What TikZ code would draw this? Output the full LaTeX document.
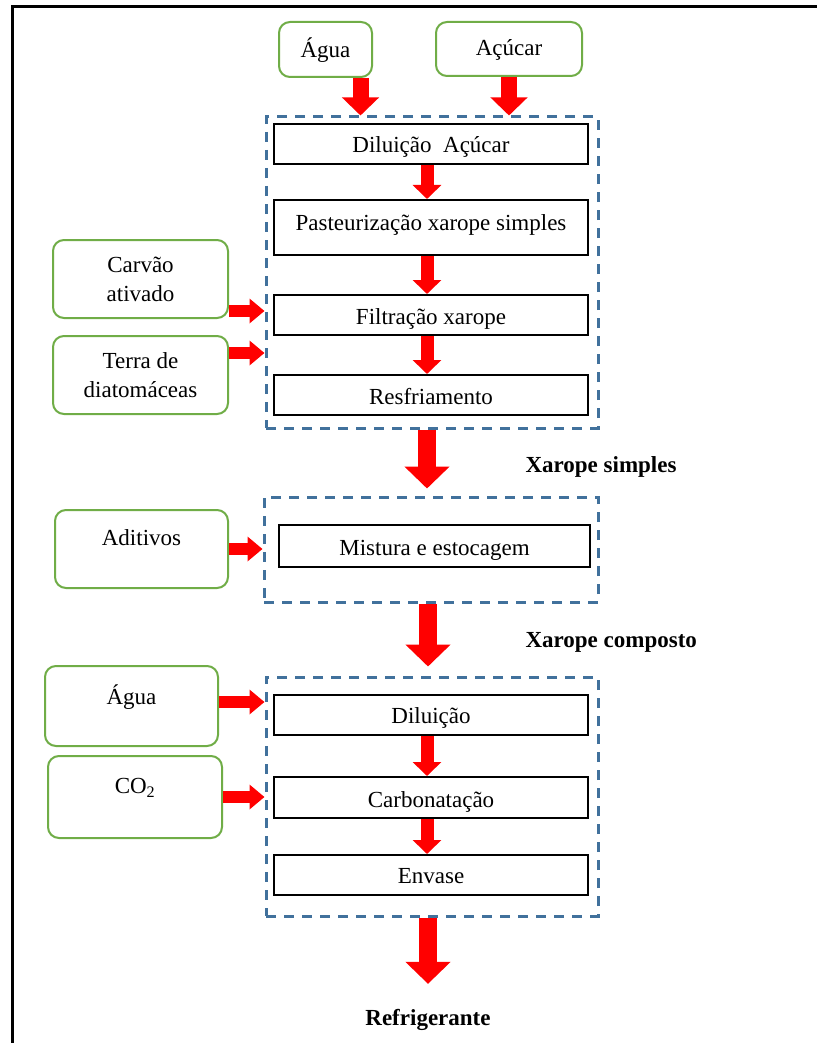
\documentclass[tikz,border=0pt]{standalone}
\usepackage{fontspec}
\setmainfont{Liberation Serif}
\usetikzlibrary{arrows.meta}
\definecolor{grpblue}{RGB}{65,113,156}
\definecolor{inpgreen}{RGB}{112,173,71}
\newcommand\lowtxt[2]{\raisebox{#1}[\height][\depth]{#2}}
\begin{document}
\begin{tikzpicture}[x=1pt,y=-1pt,
  every node/.style={font=\fontsize{23}{29}\selectfont},
  stepbox/.style={draw=black,line width=2pt,inner sep=0pt,align=center},
  inbox/.style={draw=inpgreen,line width=2pt,rounded corners=11pt,inner sep=0pt,align=center},
  grpbox/.style={draw=grpblue,line width=3pt,dash pattern=on 10pt off 8pt,inner sep=0pt},
  lbl/.style={font=\fontsize{23}{26}\selectfont\bfseries},
  toparrow/.style={draw=red,line width=16pt,-{Triangle[width=36pt,length=18pt]}},
  inarrow/.style={draw=red,line width=13pt,-{Triangle[width=28pt,length=14pt]}},
  bigarrow/.style={draw=red,line width=18pt,-{Triangle[width=44pt,length=22pt]}},
  sidearrow/.style={draw=red,line width=12pt,-{Triangle[width=24pt,length=15pt]}}]
\useasboundingbox (0,0) rectangle (816,1043);
\fill[white] (0,0) rectangle (816,1043);
% outer frame (cut by page edge)
\draw[line width=3pt] (12,1080) -- (12,7) -- (840,7);

% group boxes
\node[grpbox,minimum width=332pt,minimum height=311pt] (grp1) at (432,272.5) {};
\node[grpbox,minimum width=334pt,minimum height=105pt] (grp2) at (431,549.5) {};
\node[grpbox,minimum width=332pt,minimum height=239pt] (grp3) at (432,796.5) {};

% inputs
\node[inbox,minimum width=93pt,minimum height=55pt] (agua1) at (325.5,49.5) {\lowtxt{-1pt}{Água}};
\node[inbox,minimum width=146pt,minimum height=54pt] (acucar) at (509,49) {\lowtxt{-1pt}{Açúcar}};
\node[inbox,minimum width=175pt,minimum height=78pt] (carvao) at (140.5,279) {Carvão\\ativado};
\node[inbox,minimum width=175pt,minimum height=78pt] (terra) at (140.5,375) {Terra de\\diatomáceas};
\node[inbox,minimum width=173pt,minimum height=78pt] (aditivos) at (141.5,549) {};
\node (aditivosT) at (aditivos.center) [yshift=11pt] {Aditivos};
\node[inbox,minimum width=173pt,minimum height=80pt] (agua2) at (131.5,706) {};
\node (agua2T) at (agua2.center) [yshift=9pt] {Água};
\node[inbox,minimum width=174pt,minimum height=82pt] (co2) at (135,797) {};
\node (co2T) at (co2.center) [yshift=9pt] {CO\textsubscript{2}};

% steps
\node[stepbox,minimum width=314pt,minimum height=40pt] (dil1) at (431,144) {\lowtxt{-3pt}{Diluição\enspace Açúcar}};
\node[stepbox,minimum width=314pt,minimum height=55pt] (past) at (431,227.5) {\lowtxt{3pt}{Pasteurização xarope simples}};
\node[stepbox,minimum width=314pt,minimum height=40pt] (filt) at (431,315) {\lowtxt{-4pt}{Filtração xarope}};
\node[stepbox,minimum width=314pt,minimum height=40pt] (resf) at (431,395) {\lowtxt{-2pt}{Resfriamento}};
\node[stepbox,minimum width=311pt,minimum height=42pt] (mist) at (434.5,546) {\lowtxt{-4pt}{Mistura e estocagem}};
\node[stepbox,minimum width=314pt,minimum height=40pt] (dil2) at (431,715) {\lowtxt{-3pt}{Diluição}};
\node[stepbox,minimum width=314pt,minimum height=41pt] (carb) at (431,797.5) {\lowtxt{-4pt}{Carbonatação}};
\node[stepbox,minimum width=314pt,minimum height=40pt] (env) at (431,875) {\lowtxt{-1pt}{Envase}};

% labels
\node[lbl,anchor=west] (xs) at (522,467) {Xarope simples};
\node[lbl,anchor=west] (xc) at (522,642) {Xarope composto};
\node[lbl] (refr) at (428,1020) {Refrigerante};

% arrows
\draw[toparrow] ([xshift=35pt]agua1.south) -- ([xshift=35pt]agua1.south |- grp1.north);
\draw[toparrow] (acucar.south) -- (acucar.south |- grp1.north);
\draw[inarrow] ([xshift=-4pt]dil1.south) -- ([xshift=-4pt]past.north);
\draw[inarrow] ([xshift=-4pt]past.south) -- ([xshift=-4pt]filt.north);
\draw[inarrow] ([xshift=-4pt]filt.south) -- ([xshift=-4pt]resf.north);
\draw[inarrow] ([xshift=-4pt]dil2.south) -- ([xshift=-4pt]carb.north);
\draw[inarrow] ([xshift=-4pt]carb.south) -- ([xshift=-4pt]env.north);
\draw[bigarrow] ([xshift=-5pt]grp1.south) -- ([xshift=-5pt,yshift=7pt]grp1.south |- grp2.north);
\draw[bigarrow] ([xshift=-3pt]grp2.south) -- ([xshift=-3pt,yshift=9pt]grp2.south |- grp3.north);
\draw[bigarrow] ([xshift=-4pt]grp3.south) -- ([xshift=-4pt,yshift=22pt]grp3.south |- refr.north);
\draw[sidearrow] (carvao.east |- filt.west) ++(0,-4) coordinate (c1s) -- (c1s -| grp1.west);
\draw[sidearrow] ([yshift=22pt]terra.east) coordinate (c2s) -- (c2s -| grp1.west);
\draw[sidearrow] (aditivos.east) -- (aditivos.east -| grp2.west);
\draw[sidearrow] ([yshift=4pt]agua2.east) coordinate (c3s) -- (c3s -| grp3.west);
\draw[sidearrow] (co2.east) -- (co2.east -| grp3.west);
\end{tikzpicture}
\end{document}
